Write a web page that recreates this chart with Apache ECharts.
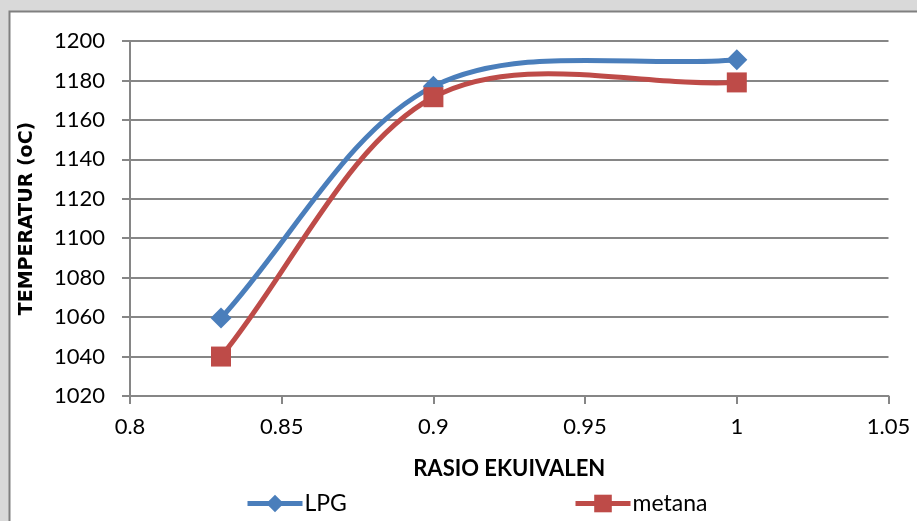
<!DOCTYPE html>
<html>
<head>
<meta charset="utf-8">
<script src="https://cdn.jsdelivr.net/npm/echarts@6/dist/echarts.min.js"></script>
<style>html,body{margin:0;padding:0;background:#fff;}#c{width:917px;height:521px;}</style>
</head>
<body>
<div id="c"></div>
<script>
const xTicks = [0.8, 0.85, 0.9, 0.95, 1, 1.05];
const yTicks = [1020, 1040, 1060, 1080, 1100, 1120, 1140, 1160, 1180, 1200];
const ratio = [0.83, 0.9, 1.0];
const lpg = [1059.5, 1177, 1190.5];
const metana = [1040, 1171.5, 1179];
const seriesNames = ['LPG', 'metana'];
const colors = ['#4a7ebb', '#be4b48'];

const font = 'Lato, "Open Sans", sans-serif';

// Excel-style smoothed curve (Catmull-Rom Bezier) through the data points, placed via the axes
function smoothCurve(xs, ys, color, name) {
  return {
    type: 'custom', name: name, z: 1, silent: true,
    data: xs.map((x, i) => [x, ys[i]]),
    encode: { x: 0, y: 1 },
    renderItem: (params, api) => {
      if (params.dataIndex !== 0) return null;
      const p = xs.map((x, i) => api.coord([x, ys[i]]));
      const n = p.length;
      const children = [];
      for (let i = 0; i < n - 1; i++) {
        const p0 = i > 0 ? p[i - 1] : [2 * p[0][0] - p[1][0], 2 * p[0][1] - p[1][1]];
        const p1 = p[i], p2 = p[i + 1];
        const p3 = i + 2 < n ? p[i + 2] : [2 * p[n - 1][0] - p[n - 2][0], 2 * p[n - 1][1] - p[n - 2][1]];
        children.push({
          type: 'bezierCurve',
          shape: {
            x1: p1[0], y1: p1[1], x2: p2[0], y2: p2[1],
            cpx1: p1[0] + (p2[0] - p0[0]) / 6, cpy1: p1[1] + (p2[1] - p0[1]) / 6,
            cpx2: p2[0] - (p3[0] - p1[0]) / 6, cpy2: p2[1] - (p3[1] - p1[1]) / 6
          },
          style: { stroke: color, lineWidth: 5, fill: 'none', lineCap: 'round' }
        });
      }
      return { type: 'group', children: children };
    }
  };
}

const legendCommon = {
  top: 487, itemWidth: 55, itemHeight: 22, itemGap: 0,
  textStyle: { fontFamily: font, fontSize: 23, color: '#000', padding: [0, 0, 0, -3] },
  lineStyle: { opacity: 1, width: 5 }
};

const chart = echarts.init(document.getElementById('c'));
chart.setOption({
  backgroundColor: '#d9d9d9',
  animation: false,
  graphic: [{
    type: 'rect', z: -10, silent: true,
    shape: { x: 9.5, y: 11.5, width: 920, height: 520 },
    style: { fill: '#ffffff', stroke: '#808080', lineWidth: 2 }
  }],
  grid: { left: 130, right: 28.5, top: 41, bottom: 125, containLabel: false },
  xAxis: {
    type: 'value', min: xTicks[0], max: xTicks[xTicks.length - 1], interval: 0.05,
    name: 'RASIO EKUIVALEN', nameLocation: 'middle', nameGap: 62,
    nameTextStyle: { fontFamily: font, fontWeight: 'bold', fontSize: 22, color: '#000' },
    axisLine: { lineStyle: { color: '#868686', width: 2 } },
    axisTick: { show: true, inside: false, length: 8, lineStyle: { color: '#868686', width: 2 } },
    axisLabel: { fontFamily: font, fontSize: 22, color: '#000', margin: 20,
      formatter: v => String(parseFloat(v.toFixed(2))) },
    splitLine: { show: false }
  },
  yAxis: {
    type: 'value', min: yTicks[0], max: yTicks[yTicks.length - 1], interval: 20,
    name: 'TEMPERATUR (oC)', nameLocation: 'middle', nameGap: 93,
    nameTextStyle: { fontFamily: '"DejaVu Sans", sans-serif', fontWeight: 'bold', fontSize: 19, color: '#000' },
    axisLine: { show: true, lineStyle: { color: '#868686', width: 2 } },
    axisTick: { show: true, inside: false, length: 8, lineStyle: { color: '#868686', width: 2 } },
    axisLabel: { fontFamily: font, fontSize: 22, color: '#000', margin: 25, formatter: v => String(v) },
    splitLine: { show: true, lineStyle: { color: '#868686', width: 2 } }
  },
  legend: [
    Object.assign({ left: 240, data: [seriesNames[0]] }, legendCommon),
    Object.assign({ left: 568, data: [seriesNames[1]] }, legendCommon)
  ],
  series: [
    smoothCurve(ratio, lpg, colors[0], 'LPG curve'),
    smoothCurve(ratio, metana, colors[1], 'metana curve'),
    {
      name: seriesNames[0], type: 'line', z: 3,
      data: ratio.map((x, i) => [x, lpg[i]]),
      symbol: 'diamond', symbolSize: 21,
      lineStyle: { color: colors[0], width: 5, opacity: 0 },
      itemStyle: { color: colors[0] }
    },
    {
      name: seriesNames[1], type: 'line', z: 3,
      data: ratio.map((x, i) => [x, metana[i]]),
      symbol: 'rect', symbolSize: 20,
      lineStyle: { color: colors[1], width: 5, opacity: 0 },
      itemStyle: { color: colors[1] }
    }
  ]
});
</script>
</body>
</html>
